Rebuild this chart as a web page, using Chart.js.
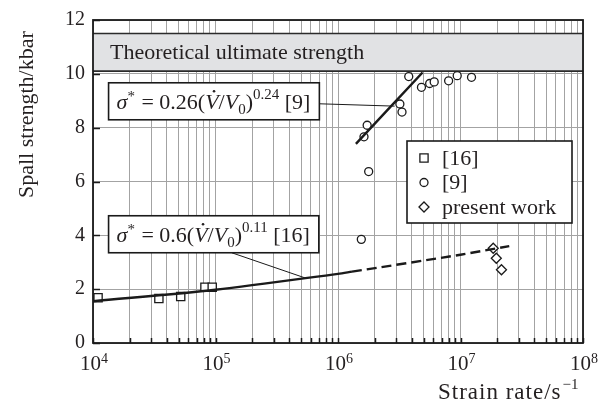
<!DOCTYPE html>
<html>
<head>
<meta charset="utf-8">
<title>Spall strength vs strain rate</title>
<script src="https://cdn.jsdelivr.net/npm/chart.js"></script>
<style>
  html, body { margin: 0; padding: 0; background: white; }
</style>
</head>
<body>
<canvas id="spallChart" width="605" height="406"></canvas>
<script>
// --- data ---
// [16] (squares)
const ref16Rate = [1.1e4, 3.45e4, 5.2e4, 8.2e4, 9.4e4];
const ref16Strength = [1.68, 1.65, 1.73, 2.07, 2.07];
// [9] (circles)
const ref9Rate = [1.55e6, 1.63e6, 1.73e6, 1.78e6, 3.2e6, 3.33e6, 3.78e6, 4.8e6, 5.6e6, 6.1e6, 8.0e6, 9.4e6, 1.23e7];
const ref9Strength = [3.85, 7.66, 8.09, 6.37, 8.88, 8.58, 9.9, 9.5, 9.64, 9.7, 9.74, 9.93, 9.87];
// present work (diamonds)
const presentRate = [1.85e7, 1.96e7, 2.16e7];
const presentStrength = [3.52, 3.15, 2.72];
// fit of [16], solid part and dashed extrapolation
const fit16Rate = [1e4, 1e5, 1e6, 1.3e6];
const fit16Strength = [1.55, 1.98, 2.57, 2.65];
const fit16ExtRate = [1.3e6, 1e7, 2.5e7];
const fit16ExtStrength = [2.65, 3.28, 3.6];
// fit of [9]
const fit9Rate = [1.4e6, 4.9e6];
const fit9Strength = [7.4, 10.05];
// theoretical ultimate strength band
const bandLow = 10.1;
const bandHigh = 11.5;
const bandLabel = 'Theoretical ultimate strength';
// axes
const xDecades = [4, 5, 6, 7, 8];
const yTicks = [0, 2, 4, 6, 8, 10, 12];

const FONT = '"Liberation Serif", "Times New Roman", serif';
const INK = '#231f20';
const font = (size, italic) => (italic ? 'italic ' : '') + size + 'px ' + FONT;
const zip = (xs, ys) => xs.map((v, i) => ({x: v, y: ys[i]}));

// every 1..9 x 10^n position for the log grid
const xGrid = [];
xDecades.slice(0, -1).forEach(e => { for (let m = 1; m <= 9; m++) xGrid.push(m * Math.pow(10, e)); });
xGrid.push(Math.pow(10, xDecades[xDecades.length - 1]));

// equation labels with leader lines (anchored in data units)
const equations = [
  {coef: '0.26', power: '0.24', ref: '[9]', rate: 1.34e4, level: 8.98, from: 'right', tipRate: 2.9e6, tipLevel: 8.8},
  {coef: '0.6', power: '0.11', ref: '[16]', rate: 1.34e4, level: 4.04, from: 'bottom', tipRate: 5.45e5, tipLevel: 2.41}
];

function equationRuns(eq) {
  return [
    {text: 'σ', size: 22, italic: true},
    {text: '*', size: 15, dy: -8, gap: 1},
    {text: ' = ' + eq.coef + '(', size: 22},
    {text: 'V', size: 22, italic: true, dot: true},
    {text: '/', size: 22},
    {text: 'V', size: 22, italic: true},
    {text: '0', size: 15, dy: 5},
    {text: ')', size: 22},
    {text: eq.power, size: 15, dy: -10},
    {text: ' ' + eq.ref, size: 22}
  ];
}

function drawRuns(ctx, runs, x, y, measureOnly) {
  let cx = x;
  runs.forEach(r => {
    ctx.font = font(r.size, r.italic);
    const w = ctx.measureText(r.text).width;
    if (!measureOnly) {
      ctx.fillText(r.text, cx, y + (r.dy || 0));
      if (r.dot) {
        ctx.beginPath();
        ctx.arc(cx + w * 0.66, y - 18, 1.3, 0, Math.PI * 2);
        ctx.fill();
      }
    }
    cx += w + (r.gap || 0);
  });
  return cx - x;
}

const decor = {
  id: 'decor',
  beforeDatasetsDraw(chart) {
    const {ctx, chartArea: a, scales: {x, y}} = chart;
    const top = y.getPixelForValue(bandHigh), bot = y.getPixelForValue(bandLow);
    ctx.save();
    ctx.fillStyle = '#e1e2e4';
    ctx.fillRect(a.left, top, a.right - a.left, bot - top);
    ctx.strokeStyle = '#2b2b2b';
    ctx.lineWidth = 1.6;
    ctx.beginPath();
    ctx.moveTo(a.left, top); ctx.lineTo(a.right, top);
    ctx.moveTo(a.left, bot); ctx.lineTo(a.right, bot);
    ctx.stroke();
    ctx.fillStyle = INK;
    ctx.font = font(22);
    ctx.textBaseline = 'alphabetic';
    ctx.fillText(bandLabel, a.left + 17, (top + bot) / 2 + 7);
    ctx.restore();
  },
  afterDraw(chart) {
    const {ctx, chartArea: a, scales: {x, y}} = chart;
    ctx.save();
    ctx.strokeStyle = '#1a1a1a';
    ctx.fillStyle = INK;

    // inner tick marks
    ctx.lineWidth = 1.5;
    ctx.beginPath();
    xGrid.forEach(v => {
      const px = Math.round(x.getPixelForValue(v)) + 0.5;
      ctx.moveTo(px, a.bottom); ctx.lineTo(px, a.bottom - 5);
    });
    yTicks.forEach(v => {
      const py = Math.round(y.getPixelForValue(v)) + 0.5;
      ctx.moveTo(a.left, py); ctx.lineTo(a.left + 7, py);
    });
    ctx.stroke();

    // frame
    ctx.lineWidth = 1.8;
    ctx.strokeRect(a.left, a.top, a.right - a.left, a.bottom - a.top);

    // x tick labels 10^n
    ctx.textBaseline = 'alphabetic';
    xDecades.forEach(e => {
      const px = x.getPixelForValue(Math.pow(10, e));
      ctx.font = font(21);
      const wb = ctx.measureText('10').width;
      ctx.font = font(14);
      const we = ctx.measureText(String(e)).width;
      const x0 = px - (wb + we) / 2 + 1;
      ctx.font = font(21);
      ctx.fillText('10', x0, a.bottom + 27);
      ctx.font = font(14);
      ctx.fillText(String(e), x0 + wb, a.bottom + 20);
    });

    // axis titles
    ctx.save();
    ctx.letterSpacing = '1px';
    ctx.font = font(23);
    ctx.fillText('Strain rate/s', a.left + 345, a.bottom + 56);
    const wt = ctx.measureText('Strain rate/s').width;
    ctx.restore();
    ctx.font = font(15);
    ctx.fillText('−1', a.left + 345 + wt + 1, a.bottom + 46);

    ctx.save();
    ctx.translate(a.left - 60, a.top + 178);
    ctx.rotate(-Math.PI / 2);
    ctx.font = font(22);
    ctx.fillText('Spall strength/kbar', 0, 0);
    ctx.restore();

    // equation boxes with leaders
    equations.forEach(eq => {
      const runs = equationRuns(eq);
      const tw = drawRuns(ctx, runs, 0, 0, true);
      const bw = tw + 17, bh = 37;
      const bx = x.getPixelForValue(eq.rate);
      const cy = y.getPixelForValue(eq.level);
      const by = cy - bh / 2;
      const sx = eq.from === 'right' ? bx + bw : bx + bw * 0.586;
      const sy = eq.from === 'right' ? cy + 2.5 : by + bh;
      ctx.lineWidth = 1;
      ctx.beginPath();
      ctx.moveTo(sx, sy);
      ctx.lineTo(x.getPixelForValue(eq.tipRate), y.getPixelForValue(eq.tipLevel));
      ctx.stroke();
      ctx.fillStyle = '#ffffff';
      ctx.fillRect(bx, by, bw, bh);
      ctx.lineWidth = 1.6;
      ctx.strokeRect(bx, by, bw, bh);
      ctx.fillStyle = INK;
      drawRuns(ctx, runs, bx + 8, cy + 8);
    });

    // legend
    const items = chart.data.datasets.filter(d => d.inLegend);
    const lw = 165, lh = 82;
    const lx = a.right - 11 - lw, ly = a.top + 121;
    ctx.fillStyle = '#ffffff';
    ctx.fillRect(lx, ly, lw, lh);
    ctx.lineWidth = 1.6;
    ctx.strokeRect(lx, ly, lw, lh);
    items.forEach((d, i) => {
      const cy = ly + 17 + i * 24.5;
      ctx.fillStyle = '#ffffff';
      ctx.strokeStyle = '#1a1a1a';
      ctx.lineWidth = 1.3;
      Chart.helpers.drawPoint(ctx, {pointStyle: d.pointStyle, radius: d.pointRadius, rotation: 0, borderWidth: 1.3}, lx + 17, cy);
      ctx.fillStyle = INK;
      ctx.font = font(22);
      ctx.textBaseline = 'middle';
      ctx.fillText(d.label, lx + 35, cy + 1);
    });
    ctx.restore();
  }
};

const pointSet = (label, data, style, r) => ({
  label, data, inLegend: true, order: 1,
  pointStyle: style, pointRadius: r, pointBorderWidth: 1.3,
  pointBackgroundColor: '#ffffff', pointBorderColor: '#1a1a1a', showLine: false
});
const lineSet = (data, dash, width) => ({
  data, order: 0, showLine: true, pointRadius: 0,
  borderColor: '#1a1a1a', borderWidth: width, borderDash: dash, tension: 0.3
});

new Chart(document.getElementById('spallChart'), {
  type: 'scatter',
  data: {
    datasets: [
      pointSet('[16]', zip(ref16Rate, ref16Strength), 'rect', 5.8),
      pointSet('[9]', zip(ref9Rate, ref9Strength), 'circle', 4),
      pointSet('present work', zip(presentRate, presentStrength), 'rectRot', 5),
      lineSet(zip(fit16Rate, fit16Strength), [], 2.4),
      lineSet(zip(fit16ExtRate, fit16ExtStrength), [10, 5], 2.4),
      lineSet(zip(fit9Rate, fit9Strength), [], 2.4)
    ]
  },
  options: {
    responsive: false,
    animation: false,
    layout: { padding: { left: 0, right: 22, top: 17, bottom: 0 } },
    plugins: { legend: { display: false }, tooltip: { enabled: false } },
    scales: {
      x: {
        type: 'logarithmic',
        min: Math.pow(10, xDecades[0]),
        max: Math.pow(10, xDecades[xDecades.length - 1]),
        afterBuildTicks: s => { s.ticks = xGrid.map(v => ({value: v})); },
        afterFit: s => { s.height = 63; },
        ticks: { display: false },
        grid: { color: '#a3a3a3', lineWidth: 1, drawTicks: false },
        border: { display: false }
      },
      y: {
        min: 0,
        max: 12,
        afterBuildTicks: s => { s.ticks = yTicks.map(v => ({value: v})); },
        afterFit: s => { s.width = 93; },
        ticks: { padding: 8, color: INK, font: { family: FONT, size: 20 } },
        grid: { color: '#a3a3a3', lineWidth: 1, drawTicks: false },
        border: { display: false }
      }
    }
  },
  plugins: [decor]
});
</script>
</body>
</html>
